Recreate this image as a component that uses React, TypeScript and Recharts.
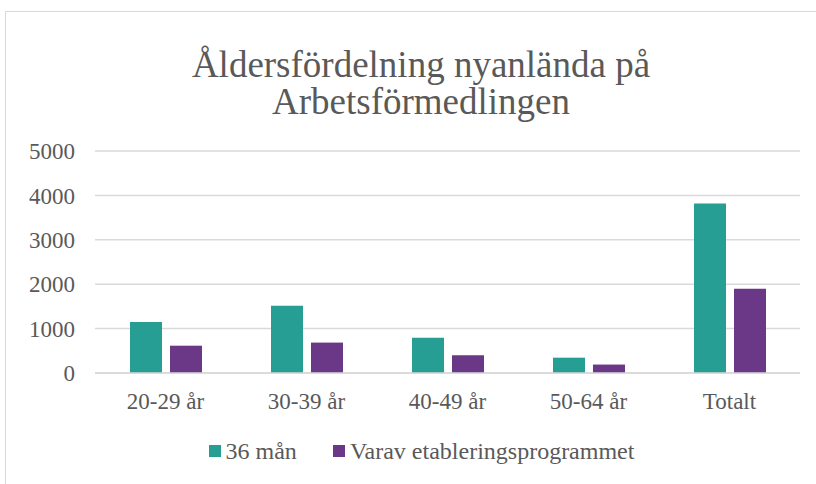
import { Bar, BarChart, CartesianGrid, XAxis, YAxis } from 'recharts'

const CATEGORIES = ['20-29 år', '30-39 år', '40-49 år', '50-64 år', 'Totalt']
const MAN_36 = [1150, 1515, 795, 345, 3820]
const ETABLERING = [615, 685, 400, 190, 1895]
const Y_TICKS = [0, 1000, 2000, 3000, 4000, 5000]

const SERIES = [
  { key: 'man36', name: '36 mån', color: '#279e93' },
  { key: 'etab', name: 'Varav etableringsprogrammet', color: '#6a3886' },
]

const FONT = '"Liberation Serif", "Times New Roman", serif'
const TEXT = '#595959'
const GRID = '#d9d9d9'

const data = CATEGORIES.map((cat, i) => ({
  cat,
  man36: MAN_36[i],
  etab: ETABLERING[i],
}))

export default function App() {
  return (
    <div style={{ position: 'absolute', left: 0, top: 0, width: 816, height: 484, overflow: 'hidden', fontFamily: FONT }}>
      <div
        style={{
          position: 'absolute',
          left: 5,
          top: 11,
          width: 832,
          height: 490,
          border: `1px solid ${GRID}`,
          background: '#fff',
        }}
      />
      <div
        style={{
          position: 'absolute',
          left: 121,
          width: 600,
          top: 46,
          textAlign: 'center',
          fontSize: 37,
          lineHeight: '37px',
          color: TEXT,
        }}
      >
        Åldersfördelning nyanlända på
        <br />
        Arbetsförmedlingen
      </div>
      <div style={{ position: 'absolute', left: 0, top: 0 }}>
        <BarChart
          width={816}
          height={484}
          data={data}
          margin={{ top: 151, right: 16, left: 0, bottom: 71 }}
          barSize={32}
          barGap={8}
        >
          <CartesianGrid vertical={false} stroke={GRID} strokeWidth={1.5} />
          <XAxis
            dataKey="cat"
            height={40}
            axisLine={{ stroke: GRID, strokeWidth: 1.5 }}
            tickLine={false}
            tickMargin={14}
            tick={{ fill: TEXT, fontSize: 23, fontFamily: FONT }}
          />
          <YAxis
            width={95}
            domain={[0, 5000]}
            ticks={Y_TICKS}
            axisLine={false}
            tickLine={false}
            tickMargin={14}
            tick={{ fill: TEXT, fontSize: 23, fontFamily: FONT }}
          />
          {SERIES.map((s) => (
            <Bar key={s.key} dataKey={s.key} name={s.name} fill={s.color} isAnimationActive={false} />
          ))}
        </BarChart>
      </div>
      <div
        style={{
          position: 'absolute',
          top: 437,
          left: 0,
          width: 843,
          display: 'flex',
          justifyContent: 'center',
          gap: 36,
          fontSize: 24,
          lineHeight: '28px',
          color: TEXT,
        }}
      >
        {SERIES.map((s) => (
          <div key={s.key} style={{ display: 'flex', alignItems: 'center' }}>
            <span style={{ display: 'inline-block', width: 12, height: 12, background: s.color, marginRight: 5 }} />
            <span>{s.name}</span>
          </div>
        ))}
      </div>
    </div>
  )
}
